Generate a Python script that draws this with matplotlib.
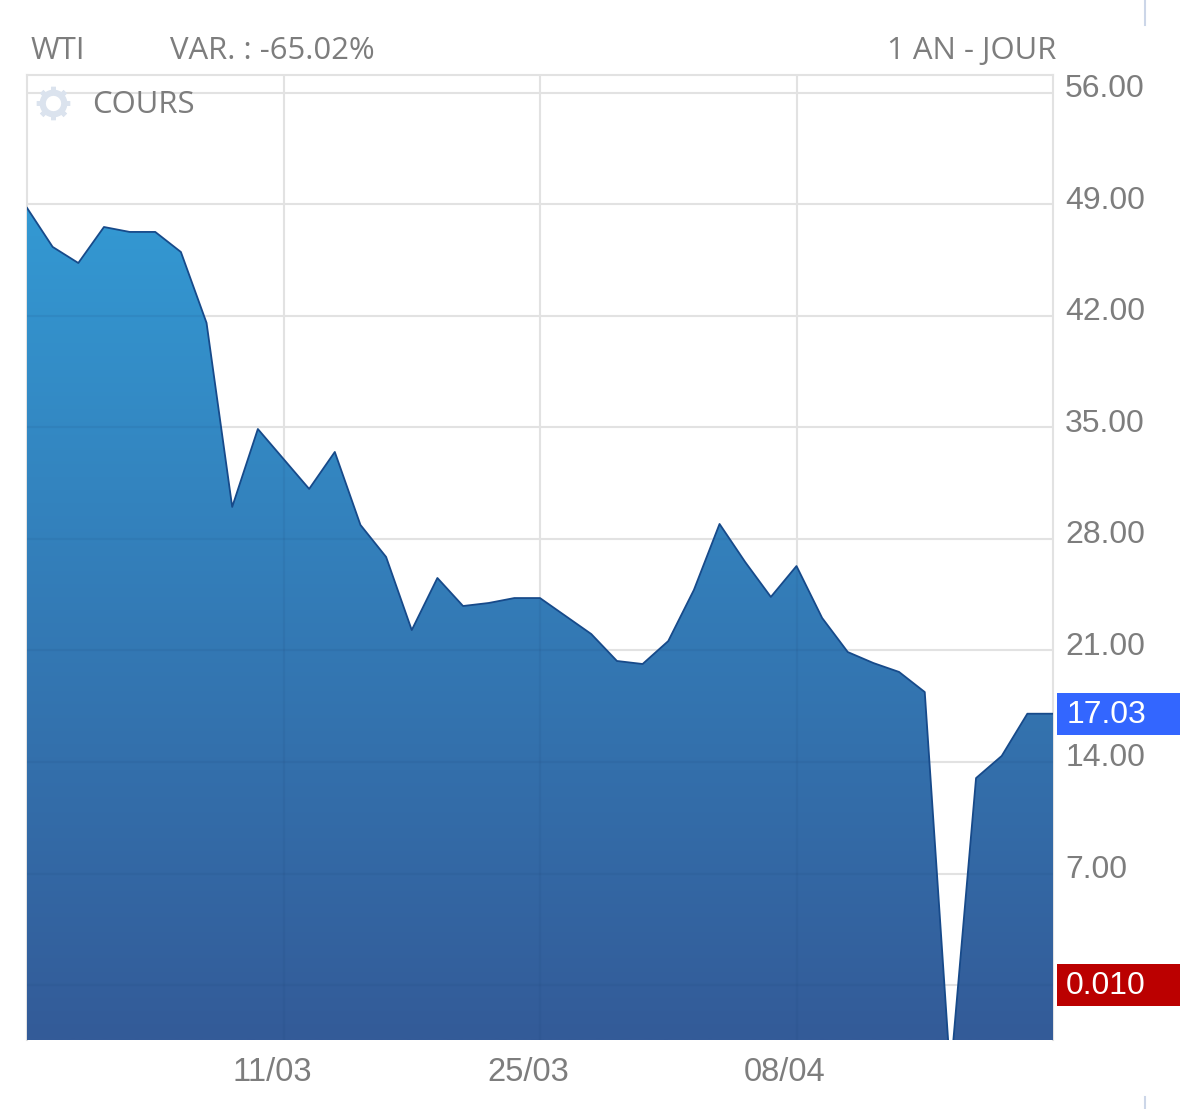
import numpy as np
import matplotlib.pyplot as plt
from matplotlib.colors import LinearSegmentedColormap
from matplotlib.patches import Polygon, Rectangle
from matplotlib.transforms import ScaledTranslation

plt.rcParams['font.family'] = ['Liberation Sans', 'DejaVu Sans']

# daily WTI closes
prices = [48.78, 46.33, 45.32, 47.58, 47.27, 47.27, 46.01, 41.56, 30.01, 34.90,
          33.02, 31.14, 33.46, 28.88, 26.87, 22.28, 25.55, 23.79, 23.98, 24.29,
          24.29, 23.16, 22.03, 20.34, 20.15, 21.59, 24.80, 28.94, 26.55, 24.36,
          26.30, 23.04, 20.90, 20.21, 19.65, 18.39, -5.60, 12.99, 14.38, 17.03,
          17.03]
days = np.arange(len(prices))

date_ticks = [10, 20, 30]
date_labels = ["11/03", "25/03", "08/04"]
price_ticks = [0, 7, 14, 21, 28, 35, 42, 49, 56]
price_labels = ["", "7.00", "14.00", "21.00", "28.00", "35.00", "42.00", "49.00", "56.00"]
last_price = 17.03
low_price = 0.010

W, H = 1200, 1109
GREY = "#7d7d7d"
GRID = "#e2e2e2"

fig = plt.figure(figsize=(W / 100, H / 100), dpi=100)
ax = fig.add_axes([27 / W, 1 - 1040 / H, 1026 / W, 965 / H])
ymin, ymax = -3.45, 57.12
ax.set_xlim(0, 40)
ax.set_ylim(ymin, ymax)

ax.set_xticks(date_ticks, date_labels)
ax.set_yticks(price_ticks, price_labels)
ax.yaxis.tick_right()
ax.tick_params(length=0, labelsize=23, labelcolor=GREY)
ax.tick_params(axis="x", pad=12.5, labelsize=23.5)
ax.tick_params(axis="y", pad=8.8)
ax.grid(True, color=GRID, linewidth=1.5, zorder=1)
ax.set_axisbelow(True)
for name, spine in ax.spines.items():
    spine.set_color(GRID)
    spine.set_linewidth(1.5)
    spine.set_zorder(1.5)
ax.spines["bottom"].set_visible(False)

# labels sit a bit off their gridlines
dpi_scale = fig.dpi_scale_trans
for lab in ax.get_xticklabels():
    lab.set_transform(lab.get_transform() + ScaledTranslation(-0.115, 0, dpi_scale))
for lab in ax.get_yticklabels():
    lab.set_transform(lab.get_transform() + ScaledTranslation(0, 0.07, dpi_scale))

# gradient area, image clipped to the price polygon
outline = list(zip(days, prices)) + [(days[-1], ymin), (days[0], ymin)]
clip_poly = Polygon(outline, closed=True, facecolor="none", edgecolor="none", transform=ax.transData)
ax.add_patch(clip_poly)
cmap = LinearSegmentedColormap.from_list("area", ["#3399d3", "#345b98"])
grad = np.linspace(0, 1, 512).reshape(-1, 1)
im = ax.imshow(grad, cmap=cmap, aspect="auto", extent=[0, 40, ymin, prices[0]], zorder=2)
im.set_clip_path(clip_poly)
ax.set_xlim(0, 40)
ax.set_ylim(ymin, ymax)

# grid shows faintly through the fill
for t in date_ticks:
    ln = ax.axvline(t, color="#1c3f70", alpha=0.09, linewidth=1.5, zorder=3)
    ln.set_clip_path(clip_poly)
for t in price_ticks:
    ln = ax.axhline(t, color="#1c3f70", alpha=0.09, linewidth=1.5, zorder=3)
    ln.set_clip_path(clip_poly)

ax.plot(days, prices, color="#174a8a", linewidth=1.3, zorder=4)

# price badges
yaxis_tr = ax.get_yaxis_transform()
for val, txt, col in [(last_price, "17.03", "#3366ff"), (low_price, "0.010", "#bb0000")]:
    ax.add_patch(Rectangle((1.004, val - 1.32), 0.12, 2.64, transform=yaxis_tr,
                           facecolor=col, edgecolor="none", clip_on=False, zorder=5))
    ax.text(1.0128, val - 0.07, txt, transform=yaxis_tr, color="white", fontsize=23,
            va="center", ha="left", zorder=6)

# header
fig.text(31 / W, 1 - 51 / H, "WTI", color=GREY, fontsize=22.4, va="center", family="Open Sans")
fig.text(170 / W, 1 - 51 / H, "VAR. : -65.02%", color=GREY, fontsize=22.4, va="center", family="Open Sans")
fig.text(1056 / W, 1 - 51 / H, "1 AN - JOUR", color=GREY, fontsize=22.4, va="center", ha="right", family="Open Sans")

# legend with the little gear
ax.plot([25.5 / 1026], [0.971], marker=(8, 2, 0), markersize=24, markeredgewidth=3.5,
        color="#dbe3ee", transform=ax.transAxes, zorder=6)
ax.plot([25.5 / 1026], [0.971], marker="o", markersize=15.5, markerfacecolor="white",
        markeredgecolor="#dbe3ee", markeredgewidth=4.5, transform=ax.transAxes, zorder=7)
fig.text(92 / W, 1 - 105 / H, "COURS", color=GREY, fontsize=22.4, va="center", family="Open Sans")

# stray marks at the picture edges
fig.add_artist(plt.Line2D([1144.5 / W] * 2, [1 - 25 / H, 1], color="#ccd6e8", linewidth=1.5))
fig.add_artist(plt.Line2D([1144.5 / W] * 2, [0, 1 - 1097 / H], color="#ccd6e8", linewidth=1.5))

fig.savefig("out.png", dpi=100)
